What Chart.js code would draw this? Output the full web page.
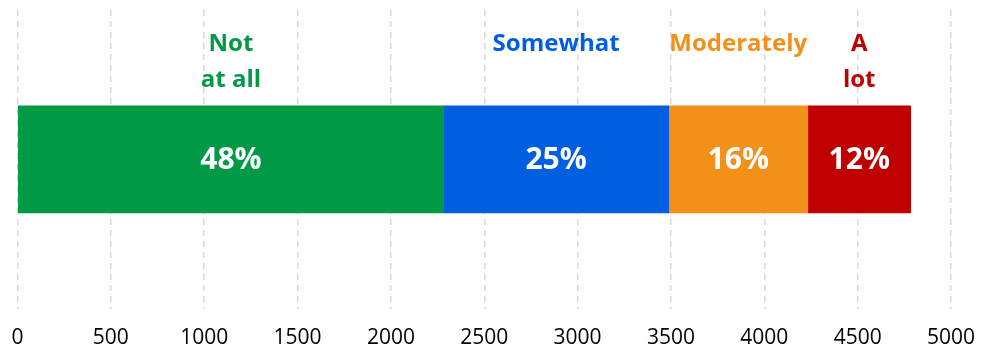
<!DOCTYPE html>
<html>
<head>
<meta charset="utf-8">
<script src="https://cdn.jsdelivr.net/npm/chart.js@4.4.1/dist/chart.umd.min.js"></script>
<style>
  html, body { margin: 0; padding: 0; background: #ffffff; }
  #wrap { width: 993px; height: 350px; position: relative; }
</style>
</head>
<body>
<div id="wrap"><canvas id="chart"></canvas></div>
<script>
// Responses per answer (one stacked bar)
const answerLabels = [["Not", "at all"], ["Somewhat"], ["Moderately"], ["A", "lot"]];
const answerCounts = [2282, 1206, 745, 551];
const answerColors = ["#009A46", "#005EE0", "#F39019", "#C00000"];
const rowLabels = ["Responses"];
const axisMin = 0;
const axisMax = 5000;
const axisStep = 500;

const total = answerCounts.reduce((a, b) => a + b, 0);

const datasets = answerCounts.map((v, i) => ({
  label: answerLabels[i].join(" "),
  data: [v],
  backgroundColor: answerColors[i],
  borderWidth: 0,
  barThickness: 107
}));

const FONT = "'Open Sans', 'Noto Sans', sans-serif";

// Draws the answer name above each segment and its share inside it
const segmentLabels = {
  id: 'segmentLabels',
  afterDatasetsDraw(chart) {
    const ctx = chart.ctx;
    ctx.save();
    chart.data.datasets.forEach((ds, i) => {
      const bar = chart.getDatasetMeta(i).data[0];
      if (!bar) return;
      const cx = (bar.x + bar.base) / 2;
      const top = bar.y - bar.height / 2;
      // share inside the bar
      ctx.fillStyle = '#ffffff';
      ctx.font = "bold 30px " + FONT;
      ctx.textAlign = 'center';
      ctx.textBaseline = 'middle';
      const pct = Math.round(answerCounts[i] / total * 100) + '%';
      ctx.fillText(pct, cx, bar.y + 1);
      // answer name above
      ctx.fillStyle = answerColors[i];
      ctx.font = "bold 24px " + FONT;
      ctx.textBaseline = 'alphabetic';
      answerLabels[i].forEach((line, k) => {
        ctx.fillText(line, cx, top - 55 + k * 36);
      });
    });
    ctx.restore();
  }
};

new Chart(document.getElementById('chart'), {
  type: 'bar',
  data: { labels: rowLabels, datasets },
  options: {
    indexAxis: 'y',
    responsive: true,
    maintainAspectRatio: false,
    animation: false,
    layout: { padding: { top: 10, left: 17.5, right: 42, bottom: -1 } },
    plugins: {
      legend: { display: false },
      tooltip: { enabled: false }
    },
    scales: {
      x: {
        stacked: true,
        min: axisMin,
        max: axisMax,
        ticks: {
          stepSize: axisStep,
          color: '#000000',
          font: { family: FONT, size: 21 },
          padding: 0,
          maxRotation: 0,
          callback: (v) => String(v)
        },
        grid: {
          color: '#d9d9d9',
          lineWidth: 1.5,
          drawTicks: true,
          tickLength: 17,
          tickColor: 'rgba(0,0,0,0)'
        },
        border: { display: false, dash: [6, 5] }
      },
      y: {
        stacked: true,
        display: false
      }
    }
  },
  plugins: [segmentLabels]
});
</script>
</body>
</html>
